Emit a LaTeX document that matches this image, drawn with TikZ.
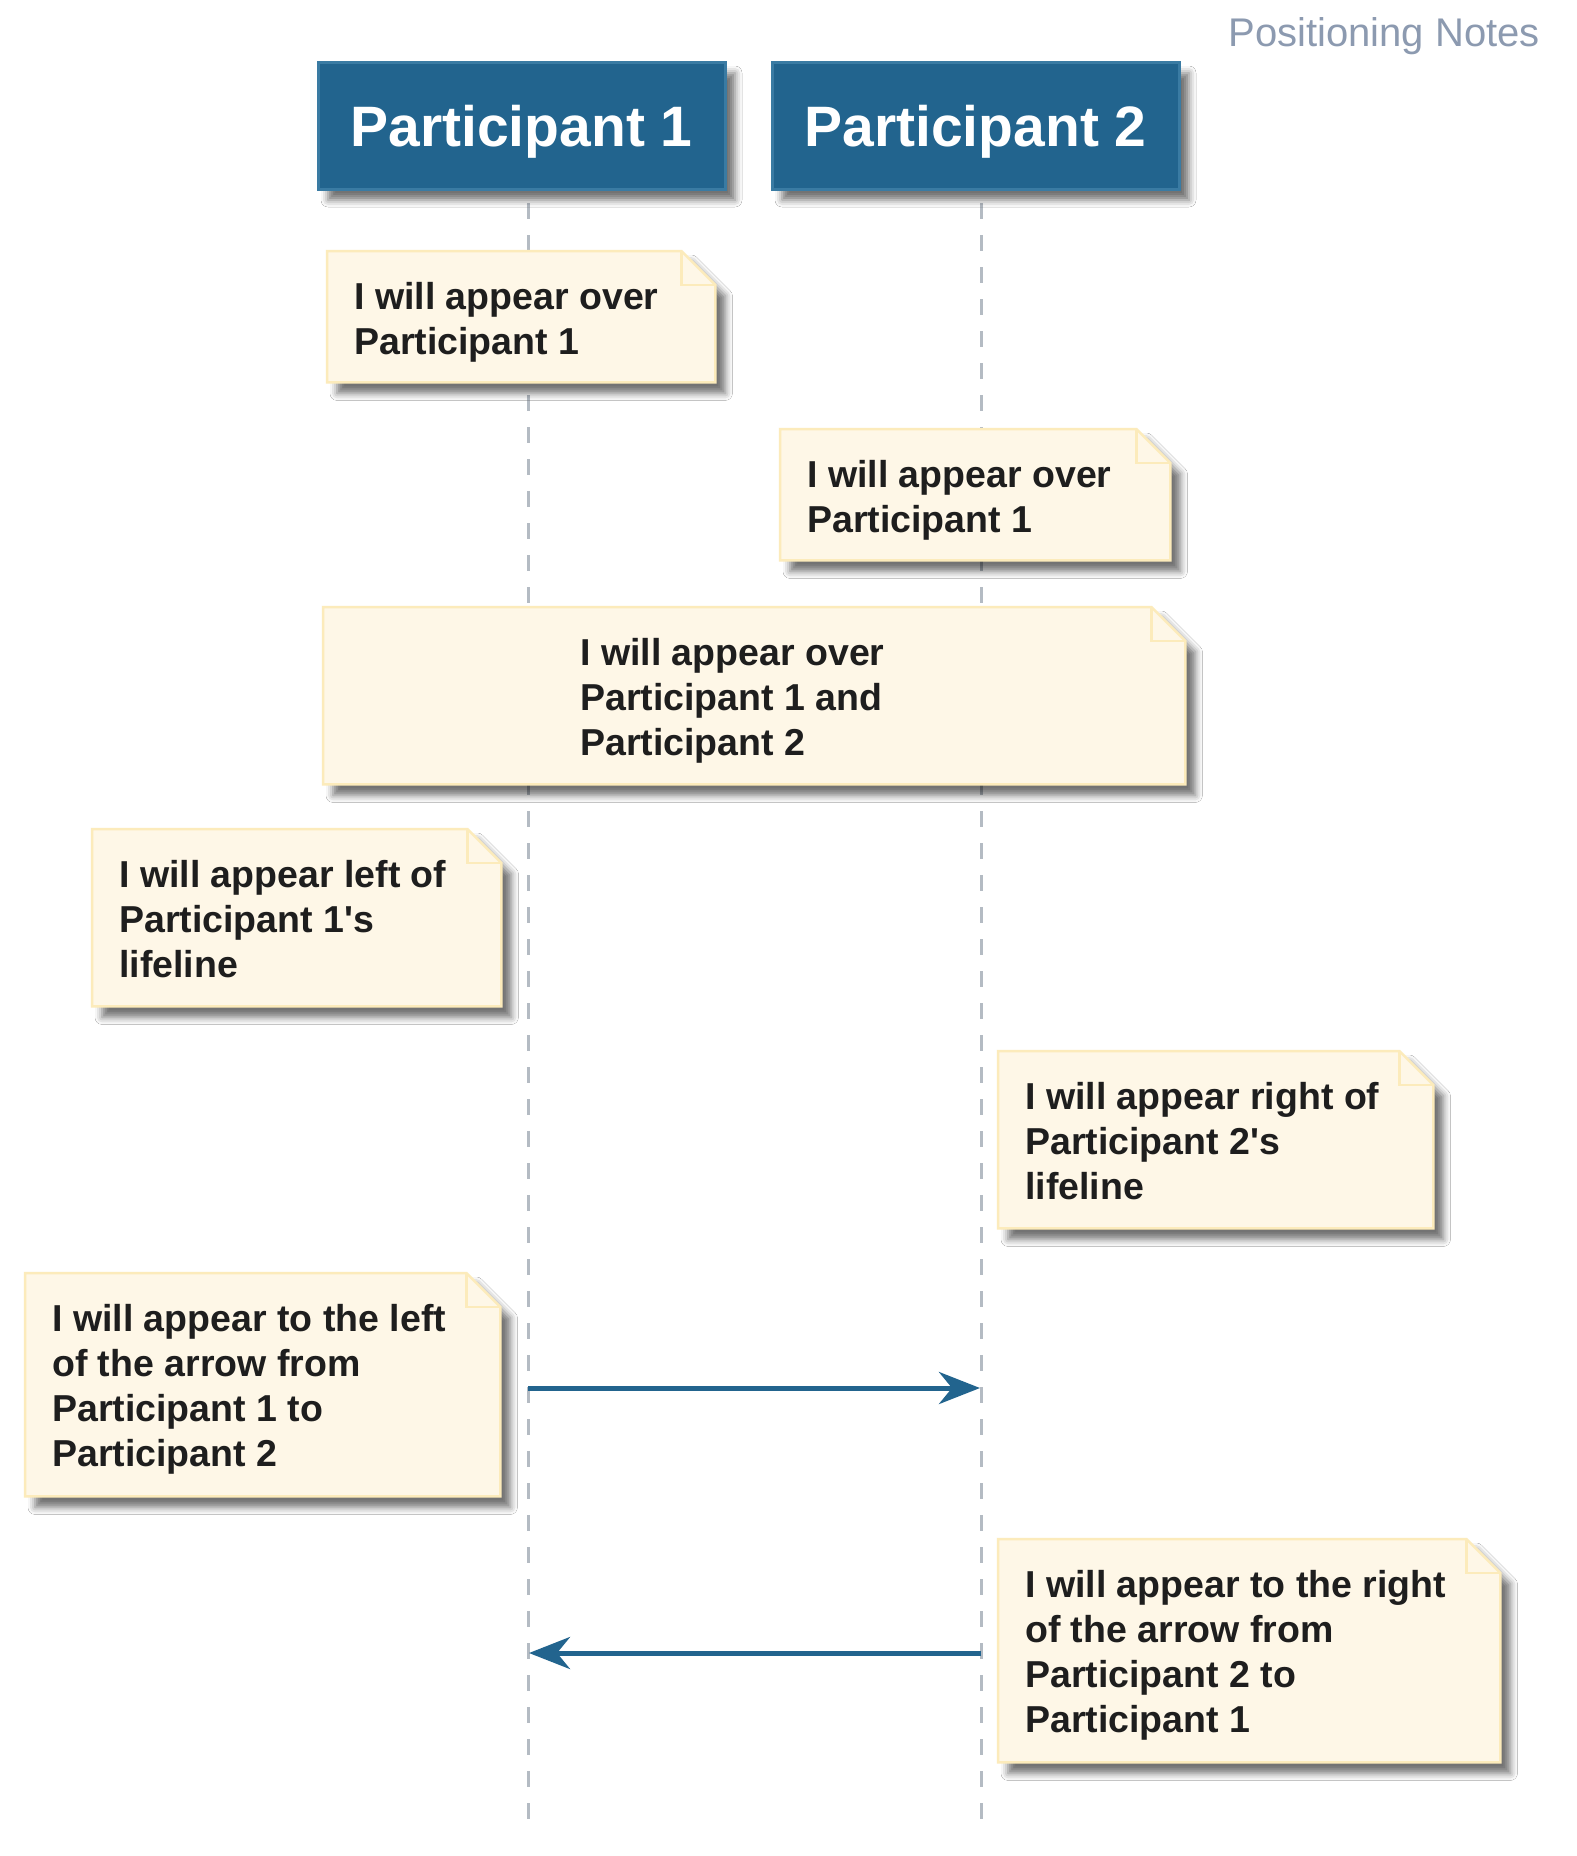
\documentclass[tikz,border=0pt]{standalone}
\usepackage{fontspec}
\setmainfont{Liberation Sans}[Ligatures=TeXOff]
\usetikzlibrary{arrows.meta,shadows.blur}
\definecolor{partfill}{HTML}{22648E}
\definecolor{partline}{HTML}{3A7BA3}
\definecolor{notefill}{HTML}{FEF7E7}
\definecolor{noteline}{HTML}{FCEBBB}
\definecolor{lifecol}{HTML}{B4BBC3}
\definecolor{titlecol}{HTML}{8C9AB0}
\definecolor{textcol}{HTML}{1E1E1E}
\tikzset{
  shad/.style={blur shadow={shadow xshift=10pt, shadow yshift=-11pt, shadow blur radius=7pt, shadow opacity=55}},
  part/.style={shad, draw=partline, fill=partfill, line width=3pt, minimum width=407pt, minimum height=127pt, inner sep=0pt, text depth=0pt, text=white, font=\fontsize{57}{60}\selectfont\bfseries},
  notebg/.style={inner sep=0pt, draw=none, anchor=north west},
  noteshape/.style={shad, draw=noteline, fill=notefill, line width=2.5pt, line join=miter},
  notefold/.style={draw=noteline, line width=2.5pt},
  notetext/.style={inner sep=0pt, anchor=base west, align=left, text=textcol, font=\fontsize{37.5}{45}\selectfont\bfseries},
  lifeline/.style={draw=lifecol, line width=3pt, dash pattern=on 16pt off 16pt},
  msg/.style={draw=partfill, line width=5pt, -{Stealth[length=41pt,width=32pt,inset=13pt]}},
  titletext/.style={inner sep=0pt, anchor=base east, text=titlecol, font=\fontsize{40}{44}\selectfont},
}
% name, x, y(top), width, height, lines, text x offset, text
\newcommand\mknote[8]{%
  \node[notebg, minimum width=#4pt, minimum height=#5pt] (#1) at (#2,#3) {};
  \path[noteshape] (#1.north west) -- ([xshift=-34pt]#1.north east) -- ([yshift=-34pt]#1.north east) -- (#1.south east) -- (#1.south west) -- cycle;
  \draw[notefold] ([xshift=-34pt]#1.north east) |- ([yshift=-34pt]#1.north east);
  \node[notetext] (#1t) at ([xshift=#7pt,yshift={-(13+45*#6)*1pt}]#1.north west) {#8};
}
\begin{document}
\begin{tikzpicture}[x=1pt,y=-1pt]
\fill[white] (0,0) rectangle (1577,1856);
\useasboundingbox (0,0) rectangle (1577,1856);
% title
\node[titletext] (title) at (1540,46) {Positioning Notes};
% lifelines
\coordinate (l1a) at (528,203);
\coordinate (l1b) at (528,1819);
\coordinate (l2a) at (981,203);
\coordinate (l2b) at (981,1819);
\draw[lifeline] (l1a) -- (l1b);
\draw[lifeline] (l2a) -- (l2b);
% participants
\node[part] (p1) at (521.5,125.5) {Participant 1};
\node[part] (p2) at (975.5,125.5) {Participant 2};
% notes
\mknote{n1}{327}{251}{388}{131}{2}{27}{I will appear over\\Participant 1}
\mknote{n2}{780}{429}{390}{131}{2}{27}{I will appear over\\Participant 1}
\mknote{n3}{323}{607}{862}{177}{3}{257}{I will appear over\\Participant 1 and\\Participant 2}
\mknote{n4}{92}{829}{409}{177}{3}{27}{I will appear left of\\Participant 1's\\lifeline}
\mknote{n5}{998}{1051}{435}{177}{3}{27}{I will appear right of\\Participant 2's\\lifeline}
\mknote{n6}{25}{1273}{475}{223}{4}{27}{I will appear to the left\\of the arrow from\\Participant 1 to\\Participant 2}
\mknote{n7}{998}{1539}{502}{223}{4}{27}{I will appear to the right\\of the arrow from\\Participant 2 to\\Participant 1}
% messages
\coordinate (m1s) at (528,1388);
\coordinate (m1e) at (980,1388);
\coordinate (m2s) at (981,1653);
\coordinate (m2e) at (529,1653);
\draw[msg] (m1s) -- (m1e);
\draw[msg] (m2s) -- (m2e);
\end{tikzpicture}
\end{document}
